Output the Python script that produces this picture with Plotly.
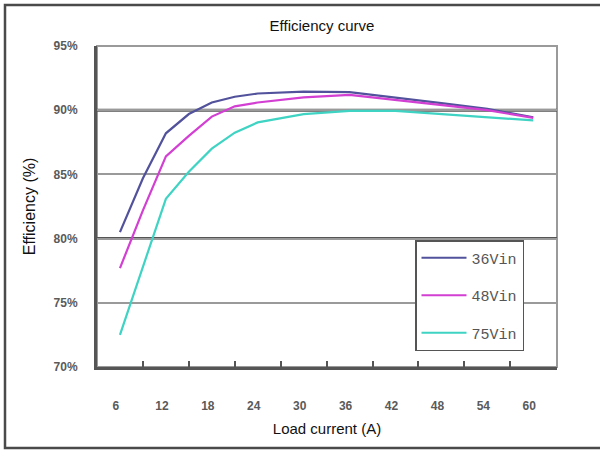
import plotly.graph_objects as go

# Data
load_current = [6, 9, 12, 15, 18, 21, 24, 30, 36, 42, 48, 54, 60]
eff_36vin = [80.5, 84.7, 88.2, 89.7, 90.6, 91.05, 91.3, 91.45, 91.4, 91.0, 90.55, 90.1, 89.45]
eff_48vin = [77.7, 82.2, 86.4, 88.0, 89.5, 90.3, 90.6, 91.0, 91.2, 90.8, 90.45, 90.0, 89.4]
eff_75vin = [72.5, 77.8, 83.1, 85.2, 87.0, 88.25, 89.05, 89.7, 89.95, 89.95, 89.7, 89.5, 89.2]
series_names = ["36Vin", "48Vin", "75Vin"]
x_ticks = [6, 12, 18, 24, 30, 36, 42, 48, 54, 60]
x_tick_marks = [9, 15, 21, 27, 33, 39, 45, 51, 57]
y_ticks = [70, 75, 80, 85, 90, 95]
y_tick_text = ["70%", "75%", "80%", "85%", "90%", "95%"]

colors = ["#52529c", "#d23fd2", "#3fd3c3"]

fig = go.Figure()
for name, ys, c in zip(series_names, [eff_36vin, eff_48vin, eff_75vin], colors):
    fig.add_trace(go.Scatter(x=load_current, y=ys, mode="lines", name=name,
                             legendgroup=name,
                             line=dict(color=c, width=2.2)))

# invisible helper trace so the tick-mark axis is drawn
fig.add_trace(go.Scatter(x=load_current, y=eff_36vin, xaxis="x2", mode="lines",
                         line=dict(color="rgba(0,0,0,0)"), showlegend=False,
                         hoverinfo="skip"))

L, R, T, B = 97, 43, 46, 86
W, H = 600, 453
pw, ph = W - L - R, H - T - B

def px_x(p):
    return (p - L) / pw

def px_y(p):
    return (H - B - p) / ph

shapes = [
    dict(type="rect", xref="paper", yref="paper", x0=px_x(5), x1=px_x(610),
         y0=px_y(448), y1=px_y(5), line=dict(color="#4a4a4a", width=2.5), layer="below"),
    dict(type="rect", xref="paper", yref="paper", x0=0, x1=1, y0=0, y1=1,
         line=dict(color="#9a9a9a", width=2), layer="below"),
]
for yv in [80, 90]:
    shapes.append(dict(type="line", xref="paper", yref="y", x0=0, x1=1, y0=yv, y1=yv,
                       line=dict(color="#555555", width=3), layer="below"))

tick_font = dict(family="Liberation Sans, Arial", size=12, color="#5a5a5a", weight="bold")
xrange = [3.0, 63.1]

fig.update_layout(
    width=W, height=H,
    margin=dict(l=L, r=R, t=T, b=B),
    paper_bgcolor="white",
    plot_bgcolor="white",
    title=dict(text="Efficiency curve", x=322 / W, xanchor="center",
               y=1 - 26 / H, yanchor="middle",
               font=dict(family="Liberation Sans, Arial", size=15, color="#111")),
    xaxis=dict(range=xrange, tickvals=x_ticks, ticks="",
               showgrid=False, zeroline=False,
               showline=True, linecolor="#555555", linewidth=3,
               tickfont=tick_font,
               ticklabelstandoff=26, ticklabelshift=-4,
               title=dict(text="Load current (A)", standoff=12,
                          font=dict(family="Liberation Sans, Arial", size=15, color="#111"))),
    xaxis2=dict(range=xrange, overlaying="x", anchor="y", side="bottom",
                tickvals=x_tick_marks, ticks="inside", ticklen=6, tickwidth=2,
                tickcolor="#555555", showticklabels=False, showgrid=False,
                zeroline=False, showline=False),
    yaxis=dict(range=[70, 95], tickvals=y_ticks, ticktext=y_tick_text, ticks="",
               showgrid=True, gridcolor="#9a9a9a", gridwidth=2,
               zeroline=False,
               showline=True, linecolor="#555555", linewidth=3,
               tickfont=tick_font,
               ticklabelstandoff=14,
               title=dict(text="Efficiency (%)", standoff=14,
                          font=dict(family="Liberation Sans, Arial", size=16, color="#111"))),
    legend=dict(x=px_x(415), y=px_y(240), xanchor="left", yanchor="top",
                bgcolor="white", bordercolor="#555555", borderwidth=1.5,
                font=dict(family="Liberation Mono, Courier New", size=15, color="#555"),
                tracegroupgap=15, itemwidth=45),
    shapes=shapes,
    showlegend=True,
)

fig.write_html("out.html")
